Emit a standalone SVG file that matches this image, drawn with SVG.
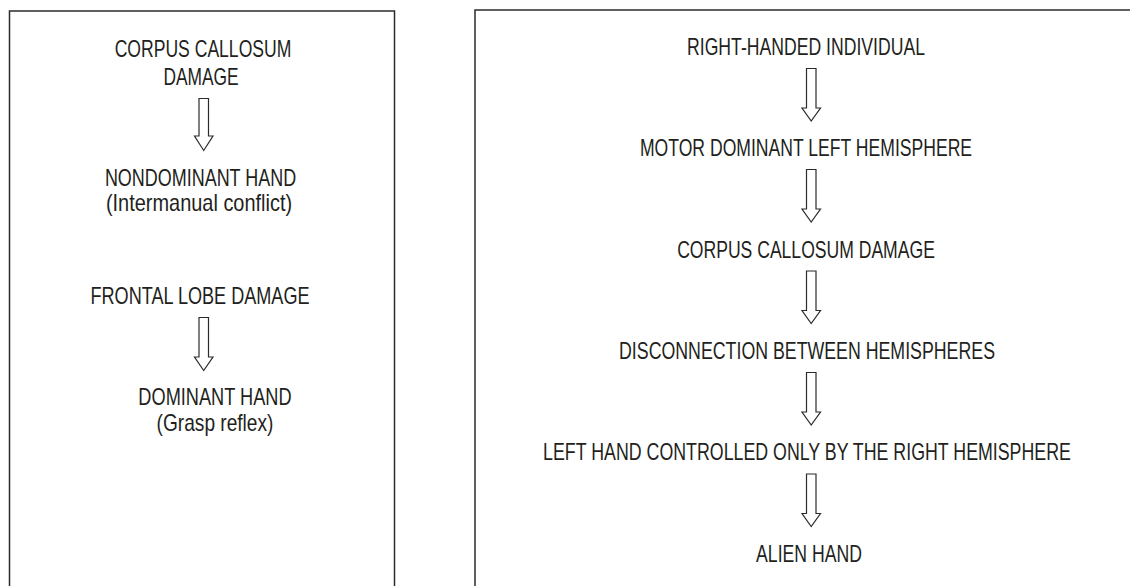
<svg xmlns="http://www.w3.org/2000/svg" width="1130" height="586" viewBox="0 0 1130 586">
<style>
.box{fill:none;stroke:#2b2b2b;stroke-width:1.5}
.t{font-family:"Liberation Sans",Arial,sans-serif;font-size:24px;fill:#231f20;text-anchor:middle}
.ar{fill:#fff;stroke:#2b2b2b;stroke-width:1.2;stroke-linejoin:miter}
</style>
<rect width="1130" height="586" fill="#fff"/>
<g id="panel-left"><rect class="box" x="9.5" y="11" width="385" height="600"/></g>
<g id="panel-right"><rect class="box" x="475" y="10" width="680" height="600"/></g>

<g id="n-corpus-left">
<text class="t" transform="translate(203 56.5) scale(0.73 1)" textLength="242" lengthAdjust="spacingAndGlyphs">CORPUS CALLOSUM</text>
<text class="t" transform="translate(201 85) scale(0.73 1)" textLength="103" lengthAdjust="spacingAndGlyphs">DAMAGE</text>
</g>
<g id="n-nondominant">
<text class="t" transform="translate(200.5 185.5) scale(0.73 1)" textLength="262" lengthAdjust="spacingAndGlyphs">NONDOMINANT HAND</text>
<text class="t" transform="translate(199 210.5) scale(0.73 1)" textLength="255" lengthAdjust="spacingAndGlyphs">(Intermanual conflict)</text>
</g>
<g id="n-frontal">
<text class="t" transform="translate(200 304) scale(0.73 1)" textLength="300" lengthAdjust="spacingAndGlyphs">FRONTAL LOBE DAMAGE</text>
</g>
<g id="n-dominant">
<text class="t" transform="translate(215 405) scale(0.73 1)" textLength="210" lengthAdjust="spacingAndGlyphs">DOMINANT HAND</text>
<text class="t" transform="translate(215 431) scale(0.73 1)" textLength="160" lengthAdjust="spacingAndGlyphs">(Grasp reflex)</text>
</g>

<g id="n-righthanded">
<text class="t" transform="translate(806 55) scale(0.73 1)" textLength="326" lengthAdjust="spacingAndGlyphs">RIGHT-HANDED INDIVIDUAL</text>
</g>
<g id="n-motor">
<text class="t" transform="translate(806 156) scale(0.73 1)" textLength="455" lengthAdjust="spacingAndGlyphs">MOTOR DOMINANT LEFT HEMISPHERE</text>
</g>
<g id="n-corpus-right">
<text class="t" transform="translate(806 257.5) scale(0.73 1)" textLength="353" lengthAdjust="spacingAndGlyphs">CORPUS CALLOSUM DAMAGE</text>
</g>
<g id="n-disconnection">
<text class="t" transform="translate(807 359) scale(0.73 1)" textLength="515" lengthAdjust="spacingAndGlyphs">DISCONNECTION BETWEEN HEMISPHERES</text>
</g>
<g id="n-lefthand">
<text class="t" transform="translate(807 460) scale(0.73 1)" textLength="723" lengthAdjust="spacingAndGlyphs">LEFT HAND CONTROLLED ONLY BY THE RIGHT HEMISPHERE</text>
</g>
<g id="n-alien">
<text class="t" transform="translate(809 562) scale(0.73 1)" textLength="145" lengthAdjust="spacingAndGlyphs">ALIEN HAND</text>
</g>

<g id="connectors">
<path class="ar" d="M199 98.5H208.5V136H213L203.7 150.5L194.5 136H199Z"/>
<path class="ar" d="M199 317.5H208.5V357H213L203.7 370.5L194.5 357H199Z"/>
<path class="ar" d="M806.5 68.5H816V108H820.5L811.2 121L802 108H806.5Z"/>
<path class="ar" d="M806.5 169.5H816V209H820.5L811.2 222L802 209H806.5Z"/>
<path class="ar" d="M806.5 271H816V310.5H820.5L811.2 323.5L802 310.5H806.5Z"/>
<path class="ar" d="M806.5 372.5H816V412H820.5L811.2 425L802 412H806.5Z"/>
<path class="ar" d="M806.5 474H816V513.5H820.5L811.2 526.5L802 513.5H806.5Z"/>
</g>
</svg>
